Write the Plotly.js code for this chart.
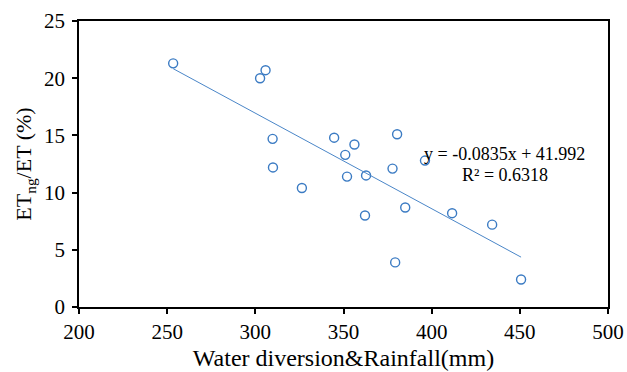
<!DOCTYPE html>
<html>
<head>
<meta charset="utf-8">
<script src="https://cdn.plot.ly/plotly-3.0.1.min.js"></script>
<style>html,body{margin:0;padding:0;background:#fff;}#chart{width:627px;height:372px;}</style>
</head>
<body>
<div id="chart"></div>
<script>
// Data
var waterRain = [253.4, 302.7, 305.8, 309.8, 310.0, 326.4, 344.7, 351.0, 356.2, 352.0, 362.8, 362.2, 377.8, 380.4, 396.2, 379.3, 385.0, 411.6, 434.3, 450.7];
var etRatio   = [21.3, 20.0, 20.7, 14.7, 12.2, 10.4, 14.8, 13.3, 14.2, 11.4, 11.5, 8.0, 12.1, 15.1, 12.8, 3.9, 8.7, 8.2, 7.2, 2.4];
var slope = -0.0835;
var intercept = 41.992;
var r2 = 0.6318;
var xTicks = [200, 250, 300, 350, 400, 450, 500];
var yTicks = [0, 5, 10, 15, 20, 25];

var xmin = Math.min.apply(null, waterRain);
var xmax = Math.max.apply(null, waterRain);
var fitX = [xmin, xmax];
var fitY = fitX.map(function (v) { return slope * v + intercept; });

var serif = '"Liberation Serif", "Times New Roman", serif';

var traces = [
  {
    x: waterRain, y: etRatio, type: 'scatter', mode: 'markers',
    marker: {symbol: 'circle-open', size: 9, color: '#3b7bc3', line: {width: 1.4, color: '#3b7bc3'}},
    hoverinfo: 'x+y', showlegend: false
  },
  {
    x: fitX, y: fitY, type: 'scatter', mode: 'lines',
    line: {color: '#4a86c8', width: 1}, hoverinfo: 'skip', showlegend: false
  }
];

var layout = {
  width: 627, height: 372,
  margin: {l: 79, r: 19, t: 21, b: 65},
  paper_bgcolor: '#fff', plot_bgcolor: '#fff',
  font: {family: serif, color: '#000', size: 21},
  xaxis: {
    range: [200, 500], tickvals: xTicks, ticktext: xTicks.map(String),
    showgrid: false, zeroline: false,
    showline: true, linecolor: '#000', linewidth: 1.5, mirror: true,
    ticks: 'outside', ticklen: 5, tickwidth: 1.5, tickcolor: '#000',
    tickfont: {family: serif, size: 21, color: '#000'},
    title: {text: 'Water diversion&amp;Rainfall(mm)', font: {family: serif, size: 24, color: '#000'}, standoff: 6}
  },
  yaxis: {
    range: [0, 25], tickvals: yTicks, ticktext: yTicks.map(String),
    showgrid: false, zeroline: false,
    showline: true, linecolor: '#000', linewidth: 1.5, mirror: true,
    ticks: 'outside', ticklen: 5, tickwidth: 1.5, tickcolor: '#000',
    tickfont: {family: serif, size: 21, color: '#000'},
    ticklabelstandoff: 3,
    title: {text: 'ET<sub>ng</sub>/ET (%)', font: {family: serif, size: 22, color: '#000'}, standoff: 6}
  },
  annotations: [
    {
      xref: 'paper', yref: 'paper', x: 0.805, y: 0.535, xanchor: 'center', yanchor: 'middle',
      text: 'y = -0.0835x + 41.992',
      showarrow: false,
      font: {family: serif, size: 18, color: '#000'}
    },
    {
      xref: 'paper', yref: 'paper', x: 0.805, y: 0.463, xanchor: 'center', yanchor: 'middle',
      text: 'R\u00b2 = ' + r2,
      showarrow: false,
      font: {family: serif, size: 18, color: '#000'}
    }
  ]
};

Plotly.newPlot('chart', traces, layout, {displayModeBar: false});
</script>
</body>
</html>
